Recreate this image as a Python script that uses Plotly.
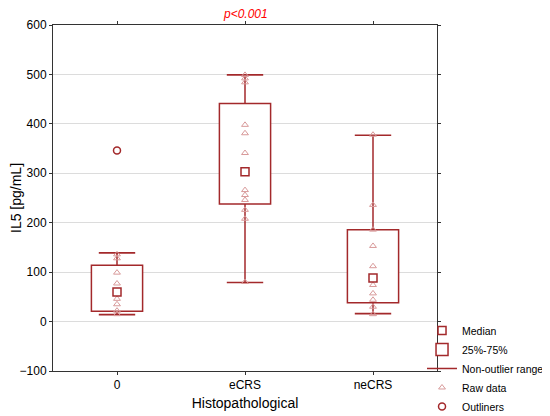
import plotly.graph_objects as go

# groups on the x axis
groups = ["0", "eCRS", "neCRS"]

# summary stats (pg/mL)
medians = [60, 303, 88]
q1 = [21, 238, 38]
q3 = [114, 441, 186]
lower = [14, 79, 16]
upper = [139, 499, 377]

# raw data points per group
raw_0 = [15, 22, 35, 46, 60, 77, 99, 128, 136]
raw_ecrs = [80, 208, 226, 246, 256, 266, 303, 341, 381, 398, 484, 492, 499]
raw_necrs = [15, 30, 44, 57, 74, 88, 112, 153, 186, 236, 378]

# outliers
out_x = ["0"]
out_y = [346]

DARK = "#a3292b"
LIGHT = "#d89a9a"
FONT = "Liberation Sans, Arial, sans-serif"

fig = go.Figure()

# 25-75% boxes
fig.add_trace(go.Bar(
    x=groups, base=q1, y=[b - a for a, b in zip(q1, q3)], width=0.4,
    name="25%-75%", legendrank=2,
    marker=dict(color="white", line=dict(color=DARK, width=1.5)),
))

# whiskers: box edge -> fence
wx, wy = [], []
for g, a, b, lo, hi in zip(groups, q1, q3, lower, upper):
    wx += [g, g, None, g, g, None]
    wy += [b, hi, None, a, lo, None]
fig.add_trace(go.Scatter(
    x=wx, y=wy, mode="lines", name="Non-outlier range", legendrank=3,
    line=dict(color=DARK, width=1.5),
))
fig.add_trace(go.Scatter(
    x=groups * 2, y=lower + upper, mode="markers", showlegend=False,
    marker=dict(symbol="line-ew", size=26, line=dict(width=1.6, color=DARK), color=DARK),
))

# raw data
rx = ["0"] * len(raw_0) + ["eCRS"] * len(raw_ecrs) + ["neCRS"] * len(raw_necrs)
ry = raw_0 + raw_ecrs + raw_necrs
fig.add_trace(go.Scatter(
    x=rx, y=ry, mode="markers", name="Raw data", legendrank=4,
    marker=dict(symbol="triangle-up-open", size=6, color=LIGHT, line=dict(width=1, color=LIGHT)),
))

# median markers, drawn over the raw points
fig.add_trace(go.Scatter(
    x=groups, y=medians, mode="markers", name="Median", legendrank=1,
    marker=dict(symbol="square", size=8, color="white", line=dict(width=1.5, color=DARK)),
))

# outliers
fig.add_trace(go.Scatter(
    x=out_x, y=out_y, mode="markers", name="Outliners", legendrank=5,
    marker=dict(symbol="circle-open", size=7, color=DARK, line=dict(width=1.5, color=DARK)),
))

fig.add_annotation(
    x="eCRS", y=1, xref="x", yref="paper", yanchor="bottom", yshift=2,
    text="<i>p<0.001</i>", showarrow=False,
    font=dict(color="red", size=12, family=FONT),
)

# the page body adds ~8px offset, so margins are shifted to compensate
fig.update_layout(
    width=550, height=416,
    margin=dict(l=45, r=121, t=17, b=53, autoexpand=False),
    plot_bgcolor="white", paper_bgcolor="white",
    font=dict(family=FONT, size=12, color="black"),
    showlegend=True,
    legend=dict(
        x=0.961, xanchor="left", y=0.159, yanchor="top",
        bgcolor="rgba(0,0,0,0)", font=dict(size=10.5),
    ),
)
fig.update_xaxes(
    type="category", categoryorder="array", categoryarray=groups,
    range=[-0.5, 2.5], title=dict(text="Histopathological", standoff=6),
    showline=True, linecolor="#333", linewidth=1, mirror="ticks",
    ticks="outside", ticklen=3, tickcolor="#333", showgrid=False, automargin=False,
)
fig.update_yaxes(
    range=[-100, 600], dtick=100, title=dict(text="IL5 [pg/mL]", standoff=6),
    showline=True, linecolor="#333", linewidth=1, mirror="ticks",
    ticks="outside", ticklen=3, tickcolor="#333",
    showgrid=True, gridcolor="#dcdcdc", zeroline=False, automargin=False,
)

fig.write_html("out.html")
